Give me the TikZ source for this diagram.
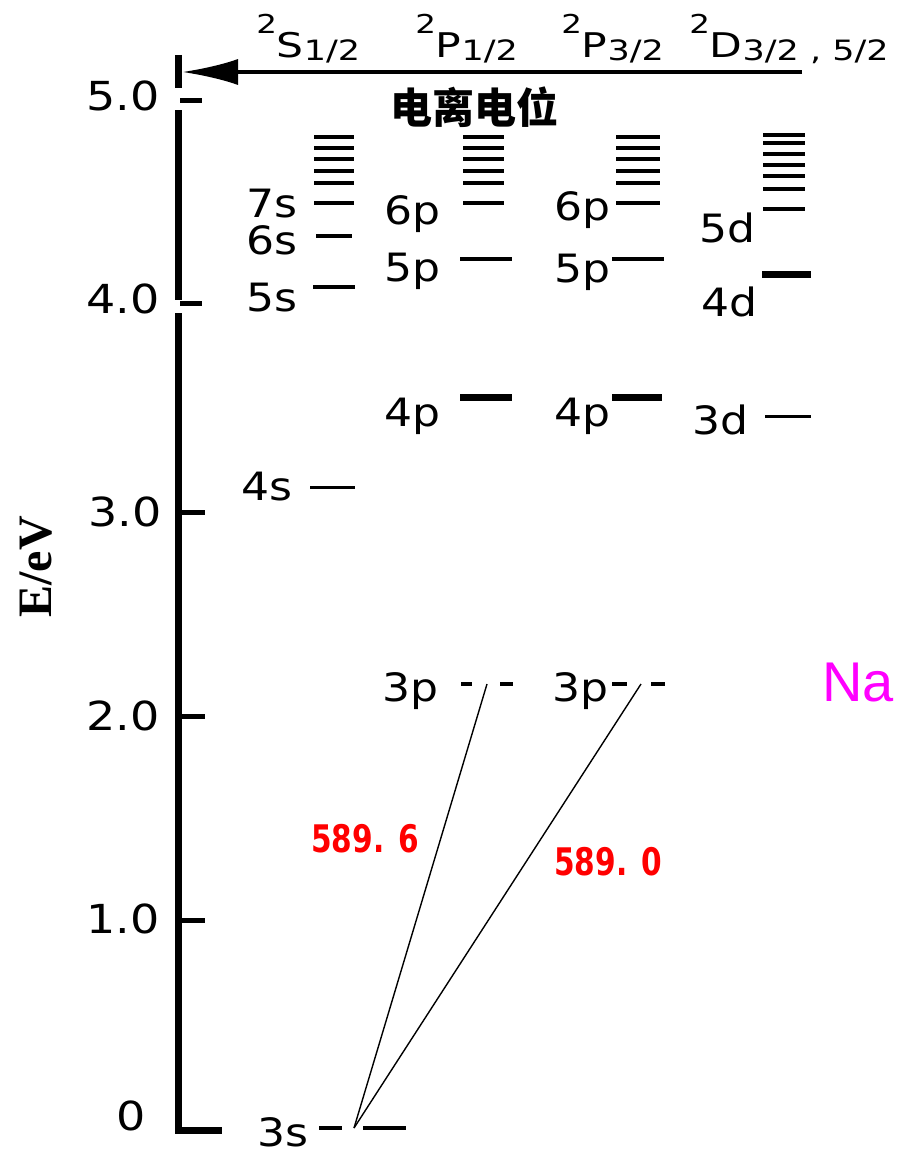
\documentclass[tikz,border=0pt]{standalone}
\usepackage{fontspec}
\setmainfont{DejaVu Sans}
\newfontfamily\cjkfont{Noto Sans CJK SC}
\newfontfamily\labelserif{Liberation Serif}
\newfontfamily\arialfont{Liberation Sans}
\usetikzlibrary{arrows.meta}
\definecolor{ink}{HTML}{000000}
\definecolor{linered}{HTML}{FF0000}
\definecolor{elemmag}{HTML}{FF00FF}
\newcommand{\term}[2]{\raisebox{24pt}{\fontsize{26}{26}\selectfont 2}#1\raisebox{-4pt}{\fontsize{28}{28}\selectfont #2}}
\tikzset{
  >=Latex,
  every node/.style={text=ink,inner sep=0pt},
  axisbar/.style={line width=7pt,draw=ink},
  tickbar/.style={line width=5pt,draw=ink},
  level/.style={line width=4.5pt,draw=ink},
  thinlevel/.style={level,line width=3pt},
  thicklevel/.style={level,line width=7pt},
  transline/.style={line width=1.4pt,draw=ink},
  ionarrow/.style={-{Latex[length=56pt,width=26pt]},line width=4pt,draw=ink},
  ticklabel/.style={font=\fontsize{40}{40}\selectfont,anchor=base east,xscale=1.15},
  levellabel/.style={font=\fontsize{39}{39}\selectfont,anchor=base east,xscale=1.13},
  termlabel/.style={font=\fontsize{34}{34}\selectfont,anchor=base west,xscale=1.25},
  wavelabel/.style={font=\fontsize{38}{38}\selectfont\bfseries,text=linered,xscale=0.78}
}
\begin{document}
\begin{tikzpicture}[x=1pt,y=-1pt]
  \useasboundingbox[fill=white] (0,0) rectangle (913,1156);

  % energy axis with ticks
  \draw[axisbar] (178.5,55) -- (178.5,88);
  \draw[axisbar] (178.5,110) -- (178.5,300);
  \draw[axisbar] (178.5,313) -- (178.5,1130) -- (222,1130);
  \foreach \yy/\xb in {100/202,303/202,512/205,716/205,920/205}
    \draw[tickbar] (180,\yy) -- (\xb,\yy);

  \node[ticklabel] (tick5) at (160,110) {5.0};
  \node[ticklabel] (tick4) at (160,313) {4.0};
  \node[ticklabel] (tick3) at (162,526) {3.0};
  \node[ticklabel] (tick2) at (160,730) {2.0};
  \node[ticklabel] (tick1) at (160,933) {1.0};
  \node[ticklabel] (tick0) at (146,1130) {0};
  \node[font=\labelserif\bfseries\fontsize{48}{48}\selectfont,rotate=90] (eaxis) at (36,567) {E/eV};

  % ionization limit
  \coordinate (ionstart) at (802,72);
  \coordinate (ionend) at (182,72);
  \draw[ionarrow] (ionstart) -- (ionend);
  \node[font=\cjkfont\bfseries\fontsize{42}{42}\selectfont] (ionlab) at (474,107) {电离电位};

  % term headers
  \node[termlabel] (termS) at (256,57) {\term{S}{1/2}};
  \node[termlabel] (termPa) at (415,57) {\term{P}{1/2}};
  \node[termlabel] (termPb) at (561,57) {\term{P}{3/2}};
  \node[termlabel] (termD) at (689,57) {\term{D}{3/2 , 5/2}};

  % level lines
  \foreach \xa/\xb/\yy in {313/355/287,316/352/236,314/354/203,
      460/512/259,463/504/203,612/664/259,616/660/203,763/805/209,
      319/342/1128,363/406/1128,461/472/684,500/513/684,612/627/684,651/665/684}
    \draw[level] (\xa,\yy) -- (\xb,\yy);
  \foreach \yy in {137,148,159,171,183}{
    \draw[level] (314,\yy) -- (354,\yy);
    \draw[level] (463,\yy) -- (504,\yy);
    \draw[level] (616,\yy) -- (660,\yy);
  }
  \foreach \yy in {135,143,154,165,176,189}
    \draw[level] (763,\yy) -- (805,\yy);
  \draw[thinlevel] (310,487) -- (355,487);
  \draw[thinlevel] (765,416) -- (811,416);
  \draw[thicklevel] (460,397) -- (512,397);
  \draw[thicklevel] (612,397) -- (662,397);
  \draw[thicklevel] (762,274) -- (811,274);

  % level labels
  \node[levellabel] (l7s) at (298,217) {7s};
  \node[levellabel] (l6s) at (298,254) {6s};
  \node[levellabel] (l5s) at (298,311) {5s};
  \node[levellabel] (l4s) at (293,500) {4s};
  \node[levellabel] (l3s) at (309,1146) {3s};
  \node[levellabel] (la6p) at (441,224) {6p};
  \node[levellabel] (la5p) at (441,281) {5p};
  \node[levellabel] (la4p) at (441,426) {4p};
  \node[levellabel] (la3p) at (439,701) {3p};
  \node[levellabel] (lb6p) at (611,220) {6p};
  \node[levellabel] (lb5p) at (611,282) {5p};
  \node[levellabel] (lb4p) at (611,426) {4p};
  \node[levellabel] (lb3p) at (609,701) {3p};
  \node[levellabel] (l5d) at (756,242) {5d};
  \node[levellabel] (l4d) at (758,316) {4d};
  \node[levellabel] (l3d) at (749,434) {3d};

  % D lines
  \coordinate (ground) at (354,1128);
  \coordinate (pa3p) at (487,684);
  \coordinate (pb3p) at (641,684);
  \draw[transline] (ground) -- (pa3p);
  \draw[transline] (ground) -- (pb3p);
  \node[wavelabel] (wav1) at (365,839) {589. 6};
  \node[wavelabel] (wav2) at (608,862) {589. 0};

  \node[font=\arialfont\fontsize{56}{56}\selectfont,text=elemmag] (na) at (858,683) {Na};
\end{tikzpicture}
\end{document}
